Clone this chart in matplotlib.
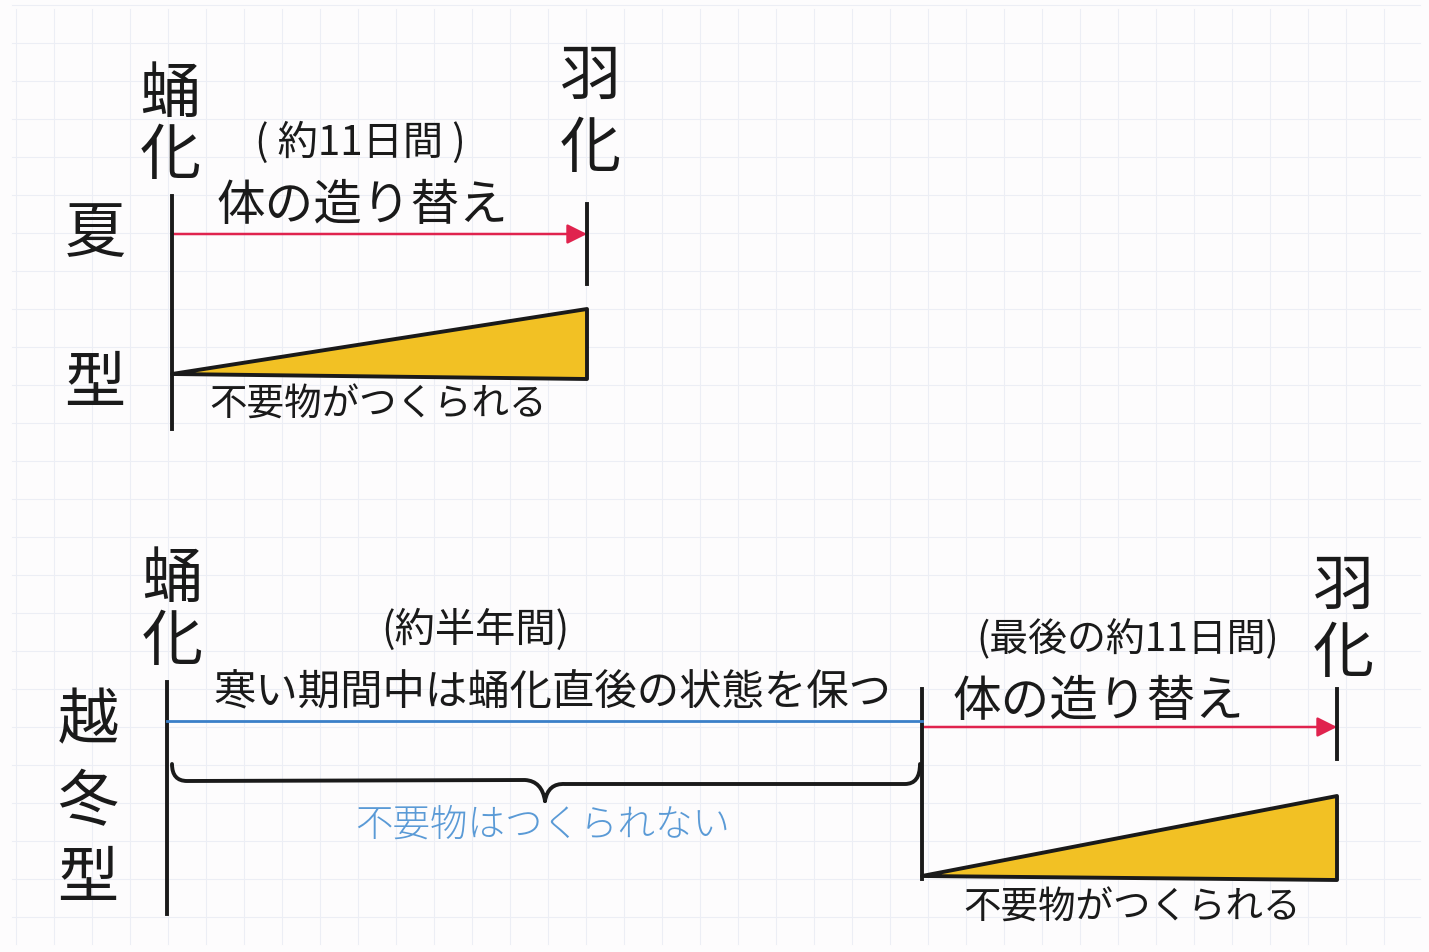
import numpy as np
import matplotlib
matplotlib.use("Agg")
import matplotlib.pyplot as plt
from matplotlib.patches import Polygon, FancyArrowPatch
from matplotlib.path import Path
from matplotlib.patches import PathPatch

plt.rcParams['font.family'] = ['Noto Sans CJK JP', 'DejaVu Sans']

# ---- data / labels ----
types = ["夏型", "越冬型"]
start_label = "蛹化"
end_label = "羽化"
remodel_label = "体の造り替え"
summer_period = "( 約11日間 )"
winter_period = "(約半年間)"
winter_last_period = "(最後の約11日間)"
dormant_label = "寒い期間中は蛹化直後の状態を保つ"
waste_made = "不要物がつくられる"
waste_not_made = "不要物はつくられない"

# diagram coordinates (pixel-like, y downward)
summer_x = [172, 587]          # pupation, eclosion
winter_x = [167, 922, 1337]    # pupation, start of remodel, eclosion
summer_arrow_y = 235
winter_line_y = [722, 728]
summer_tri = [377, 310]        # base y, top y at end
winter_tri = [879, 797]

BLACK = "#1a1a1a"
RED = "#e0234e"
BLUE = "#3a7fc8"
LBLUE = "#5a9ad6"
YELLOW = "#f2c124"

fig = plt.figure(figsize=(14.29, 9.53), dpi=100)
ax = fig.add_axes([0, 0, 1, 1])
ax.set_xlim(0, 1429)
ax.set_ylim(953, 0)
ax.axis("off")
fig.patch.set_facecolor("#fdfcfd")

# grid paper
for gx in np.arange(16, 1420, 38):
    ax.plot([gx, gx], [10, 945], color="#eceef5", lw=0.8, zorder=0)
for gy in np.arange(6, 950, 38):
    ax.plot([12, 1420], [gy, gy], color="#eceef5", lw=0.8, zorder=0)

big = 44
def vtext(x, ys, s, size=big, color=BLACK):
    for y, ch in zip(ys, s):
        ax.text(x, y, ch, fontsize=size, color=color, ha="center", va="center")

# ---------- summer ----------
vtext(170, [95, 157], start_label)
vtext(590, [78, 150], end_label)
vtext(95, [235, 385], types[0][0] + types[0][1])
ax.text(360, 143, summer_period, fontsize=29, ha="center", va="center", color=BLACK)
ax.text(362, 206, remodel_label, fontsize=35, ha="center", va="center", color=BLACK)

ax.plot([summer_x[0]] * 2, [197, 430], color=BLACK, lw=2.8)
ax.plot([summer_x[1]] * 2, [205, 285], color=BLACK, lw=2.8)
ax.add_patch(FancyArrowPatch((summer_x[0], summer_arrow_y), (summer_x[1], summer_arrow_y),
                             arrowstyle="-|>,head_length=12,head_width=6",
                             color=RED, lw=1.8, mutation_scale=1,
                             shrinkA=0, shrinkB=0))
tri = Polygon([[summer_x[0], summer_tri[0] - 2], [summer_x[1], summer_tri[1]],
               [summer_x[1], summer_tri[0] + 3]], closed=True,
              facecolor=YELLOW, edgecolor=BLACK, lw=2.8, joinstyle="round")
ax.add_patch(tri)
ax.text(378, 405, waste_made, fontsize=27, ha="center", va="center", color=BLACK)

# ---------- overwintering ----------
vtext(172, [580, 643], start_label)
vtext(1343, [588, 655], end_label)
vtext(88, [722, 803], types[1][0] + types[1][1])
vtext(88, [880], types[1][2])
ax.text(475, 630, winter_period, fontsize=29, ha="center", va="center", color=BLACK)
ax.text(553, 693, dormant_label, fontsize=30.5, ha="center", va="center", color=BLACK)
ax.text(1128, 640, winter_last_period, fontsize=28, ha="center", va="center", color=BLACK)
ax.text(1098, 702, remodel_label, fontsize=35, ha="center", va="center", color=BLACK)

ax.plot([winter_x[0]] * 2, [683, 915], color=BLACK, lw=2.8)
ax.plot([winter_x[1]] * 2, [690, 880], color=BLACK, lw=2.8)
ax.plot([winter_x[2]] * 2, [690, 760], color=BLACK, lw=2.8)
ax.plot([winter_x[0], winter_x[1]], [winter_line_y[0]] * 2, color=BLUE, lw=2.0)
ax.add_patch(FancyArrowPatch((winter_x[1], winter_line_y[1]), (winter_x[2], winter_line_y[1]),
                             arrowstyle="-|>,head_length=12,head_width=6",
                             color=RED, lw=1.8, mutation_scale=1,
                             shrinkA=0, shrinkB=0))

# brace
mid = 545
xl, xr = winter_x[0] + 5, winter_x[1] - 2
yt, yb, ytip = 765, 782, 802
verts = [(xl, yt), (xl, yb), (xl + 15, yb), (mid - 20, yb - 1), (mid - 3, yb), (mid, ytip),
         (mid, ytip), (mid + 3, yb + 2), (mid + 20, yb + 3), (xr - 15, yb + 3), (xr, yb + 3), (xr, yt)]
codes = [Path.MOVETO, Path.CURVE3, Path.CURVE3, Path.LINETO, Path.CURVE3, Path.CURVE3,
         Path.MOVETO, Path.CURVE3, Path.CURVE3, Path.LINETO, Path.CURVE3, Path.CURVE3]
ax.add_patch(PathPatch(Path(verts, codes), fill=False, edgecolor=BLACK, lw=2.8,
                       capstyle="round", joinstyle="round"))
ax.text(543, 825, waste_not_made, fontsize=27, ha="center", va="center",
        color=LBLUE, fontweight="light")

tri2 = Polygon([[winter_x[1], winter_tri[0] - 2], [winter_x[2], winter_tri[1]],
                [winter_x[2], winter_tri[0] + 2]], closed=True,
               facecolor=YELLOW, edgecolor=BLACK, lw=2.8, joinstyle="round")
ax.add_patch(tri2)
ax.text(1132, 908, waste_made, fontsize=27, ha="center", va="center", color=BLACK)

fig.savefig("out.png", dpi=100, facecolor=fig.get_facecolor())
